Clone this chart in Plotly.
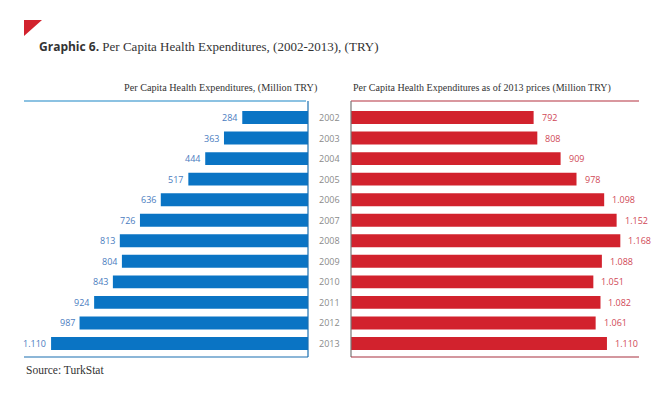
import plotly.graph_objects as go

years = [2002, 2003, 2004, 2005, 2006, 2007, 2008, 2009, 2010, 2011, 2012, 2013]
nominal = [284, 363, 444, 517, 636, 726, 813, 804, 843, 924, 987, 1110]
real_2013 = [792, 808, 909, 978, 1098, 1152, 1168, 1088, 1051, 1082, 1061, 1110]

def fmt(v):
    return f"{v:,}".replace(",", ".")

W, H = 664, 407
BLUE = "#0a74c4"
RED = "#d2222d"
BLUE_TXT = "#4a7cc0"
RED_TXT = "#d04856"
NUMFONT = "Open Sans"

fig = go.Figure()
fig.add_trace(go.Bar(
    y=years, x=nominal, orientation="h", xaxis="x", yaxis="y",
    marker=dict(color=BLUE, line=dict(width=0)), width=0.63,
    hoverinfo="skip",
))
fig.add_trace(go.Bar(
    y=years, x=real_2013, orientation="h", xaxis="x2", yaxis="y2",
    marker=dict(color=RED, line=dict(width=0)), width=0.63,
    hoverinfo="skip",
))

yr = [2013 + 13.5 / 20.5, 2002 - 16.5 / 20.5]

fig.update_layout(
    width=W, height=H, showlegend=False,
    margin=dict(l=0, r=0, t=0, b=0, autoexpand=False),
    paper_bgcolor="white", plot_bgcolor="white",
    xaxis=dict(domain=[24 / W, 308 / W], range=[1227, 0], visible=False, fixedrange=True),
    xaxis2=dict(domain=[351 / W, 639 / W], range=[0, 1249], visible=False, fixedrange=True),
    yaxis=dict(range=yr, visible=False, anchor="x", domain=[1 - 357 / H, 1 - 101 / H]),
    yaxis2=dict(range=yr, visible=False, anchor="x2", domain=[1 - 357 / H, 1 - 101 / H]),
)

def P(x, y):
    return x / W, 1 - y / H

def line(x0, y0, x1, y1, color, w=1.2):
    a = P(x0, y0); b = P(x1, y1)
    return dict(type="line", xref="paper", yref="paper", x0=a[0], y0=a[1], x1=b[0], y1=b[1],
                line=dict(color=color, width=w), layer="above")

tri = P(24, 20), P(42, 20), P(24, 36)
shapes = [
    dict(type="path", xref="paper", yref="paper",
         path=f"M {tri[0][0]} {tri[0][1]} L {tri[1][0]} {tri[1][1]} L {tri[2][0]} {tri[2][1]} Z",
         fillcolor="#d2222d", line=dict(width=0)),
    line(24, 101, 306, 101, "#1a86c6"),
    line(308, 101, 308, 357, "#1a6fb0"),
    line(24, 357, 308, 357, "#1a6fb0"),
    line(351, 101, 639, 101, "#b3303e"),
    line(351, 101, 351, 357, "#777777"),
    line(351, 357, 639, 357, "#a8303e"),
]
fig.update_layout(shapes=shapes)

ann = []
tx, ty = P(37, 46)
ann.append(dict(xref="paper", yref="paper", x=tx, y=ty, xanchor="left", yanchor="middle", showarrow=False,
                text="<b><span style='font-family:Open Sans;font-size:12px'>Graphic 6.</span></b> Per Capita Health Expenditures, (2002-2013), (TRY)",
                font=dict(family="Liberation Serif", size=13, color="#333333")))
sx, sy = P(319, 88)
ann.append(dict(xref="paper", yref="paper", x=sx, y=sy, xanchor="right", yanchor="middle", showarrow=False,
                text="Per Capita Health Expenditures, (Million TRY)",
                font=dict(family="Liberation Serif", size=10.2, color="#333333")))
sx, sy = P(351, 88)
ann.append(dict(xref="paper", yref="paper", x=sx, y=sy, xanchor="left", yanchor="middle", showarrow=False,
                text="Per Capita Health Expenditures as of 2013 prices (Million TRY)",
                font=dict(family="Liberation Serif", size=10, color="#333333")))
sx, sy = P(24, 370)
ann.append(dict(xref="paper", yref="paper", x=sx, y=sy, xanchor="left", yanchor="middle", showarrow=False,
                text="Source: TurkStat",
                font=dict(family="Liberation Serif", size=11.5, color="#333333")))
for yv in years:
    ann.append(dict(xref="paper", yref="y", x=329.5 / W, y=yv, xanchor="center", yanchor="middle",
                    showarrow=False, text=str(yv),
                    font=dict(family=NUMFONT, size=9, color="#8a8a8a")))
for yv, v in zip(years, nominal):
    ann.append(dict(xref="x", yref="y", x=v, y=yv, xanchor="right", yanchor="middle",
                    xshift=-3, showarrow=False, text=fmt(v),
                    font=dict(family=NUMFONT, size=9, color=BLUE_TXT)))
for yv, v in zip(years, real_2013):
    ann.append(dict(xref="x2", yref="y2", x=v, y=yv, xanchor="left", yanchor="middle",
                    xshift=6, showarrow=False, text=fmt(v),
                    font=dict(family=NUMFONT, size=9, color=RED_TXT)))
fig.update_layout(annotations=ann)

fig.write_html("out.html", config={"displayModeBar": False},
               post_script="document.body.style.margin='0';")
